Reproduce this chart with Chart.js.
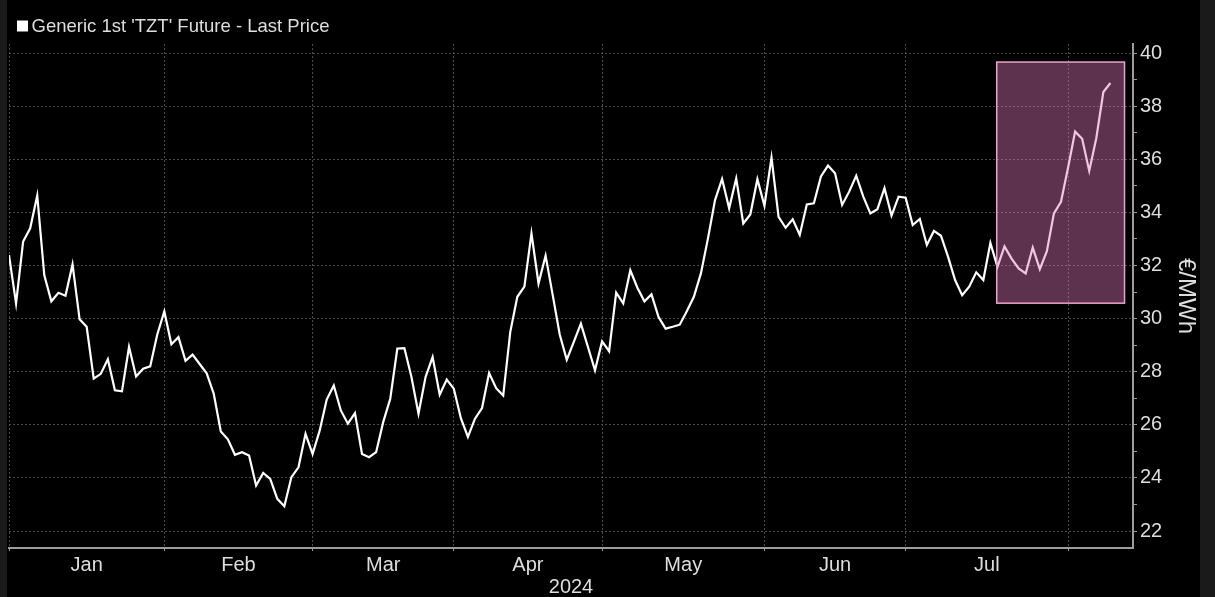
<!DOCTYPE html>
<html lang="en">
<head>
<meta charset="UTF-8">
<title>Generic 1st 'TZT' Future - Last Price</title>
<script src="https://cdn.jsdelivr.net/npm/chart.js"></script>
<style>
  html, body { margin: 0; padding: 0; background: #1a1a1a; overflow: hidden; }
  .wrap { position: absolute; left: 7px; top: 0; width: 1193px; height: 597px; background: #000; }
</style>
</head>
<body>
<div class="wrap"><canvas id="priceChart" width="1193" height="597"></canvas></div>
<script>
// one point per trading day, 2 Jan 2024 .. 9 Aug 2024
const months = ['Jan', 'Feb', 'Mar', 'Apr', 'May', 'Jun', 'Jul', 'Aug'];
const tradingDays = [22, 21, 20, 21, 23, 20, 23, 7];
const yearLabel = '2024';
const seriesName = "Generic 1st 'TZT' Future - Last Price";
const unitLabel = '€/MWh';
const yTicks = [22, 23, 24, 25, 26, 27, 28, 29, 30, 31, 32, 33, 34, 35, 36, 37, 38, 39, 40];

const prices = [
    // Jan
    32.39, 30.57, 32.90, 33.40, 34.63, 31.63, 30.65, 30.97, 30.86, 32.04, 29.97,
    29.69, 27.74, 27.92, 28.47, 27.30, 27.26, 28.93, 27.82, 28.11, 28.20, 29.40,
    // Feb
    30.27, 29.03, 29.30, 28.41, 28.64, 28.29, 27.94, 27.17, 25.75, 25.45, 24.87,
    24.97, 24.84, 23.71, 24.19, 23.96, 23.21, 22.93, 24.03, 24.40, 25.66,
    // Mar
    24.90, 25.78, 26.95, 27.48, 26.54, 26.04, 26.44, 24.90, 24.78, 24.97,
    26.10, 26.98, 28.87, 28.89, 27.80, 26.42, 27.80, 28.55, 27.13, 27.70,
    // Apr
    27.36, 26.25, 25.54, 26.23, 26.63, 27.95, 27.38, 27.10, 29.50, 30.82, 31.20,
    33.21, 31.32, 32.37, 30.90, 29.40, 28.45, 29.12, 29.81, 28.93, 28.05,
    // May
    29.14, 28.77, 30.98, 30.57, 31.82, 31.16, 30.65, 30.91, 30.06, 29.62, 29.69, 29.77,
    30.28, 30.82, 31.70, 33.02, 34.46, 35.26, 34.15, 35.28, 33.58, 33.92, 35.25,
    // Jun
    34.25, 36.06, 33.83, 33.42, 33.74, 33.15, 34.30, 34.34, 35.35, 35.76,
    35.47, 34.28, 34.78, 35.38, 34.59, 33.96, 34.12, 34.91, 33.88, 34.59,
    // Jul
    34.55, 33.52, 33.75, 32.77, 33.30, 33.12, 32.33, 31.45, 30.88, 31.20, 31.74, 31.45,
    32.85, 31.95, 32.72, 32.26, 31.89, 31.70, 32.67, 31.86, 32.54, 33.96, 34.40,
    // Aug
    35.68, 37.04, 36.77, 35.56, 36.79, 38.53, 38.87
];

// highlighted window, in day index / price units
const highlight = { from: 139.9, to: 158.0, low: 30.58, high: 39.66 };

// month boundaries (grid) and month centres (labels)
const monthStarts = [];
let acc = 0;
tradingDays.forEach(n => { monthStarts.push(acc); acc += n; });
const xMax = 159.2;
const labelAt = {};
for (let m = 0; m < months.length - 1; m++) {
    labelAt[(monthStarts[m] + monthStarts[m + 1]) / 2] = months[m];
}
const xTicks = monthStarts.concat(Object.keys(labelAt).map(Number)).sort((a, b) => a - b);
const isStart = v => monthStarts.includes(v);

const gridColor = '#4a4a4a';
const axisColor = '#9c9c9c';
const textColor = '#dedede';

Chart.defaults.font.family = "'Liberation Sans', Arial, sans-serif";

const legendPlugin = {
    id: 'topLegend',
    afterDraw(chart) {
        const ctx = chart.ctx;
        ctx.save();
        ctx.fillStyle = '#ffffff';
        ctx.fillRect(10, 20.5, 11, 11);
        ctx.font = "18.5px 'Liberation Sans', Arial, sans-serif";
        ctx.fillStyle = textColor;
        ctx.textBaseline = 'middle';
        ctx.fillText(chart.data.datasets[0].label, 24.5, 26.5);
        ctx.restore();
    }
};

const highlightPlugin = {
    id: 'highlightBox',
    afterDatasetsDraw(chart) {
        const { ctx, scales: { x, y } } = chart;
        const l = x.getPixelForValue(highlight.from);
        const r = x.getPixelForValue(highlight.to);
        const t = y.getPixelForValue(highlight.high);
        const b = y.getPixelForValue(highlight.low);
        ctx.save();
        ctx.fillStyle = 'rgba(222, 120, 185, 0.42)';
        ctx.fillRect(l, t, r - l, b - t);
        ctx.strokeStyle = '#e9a3c9';
        ctx.lineWidth = 1.5;
        ctx.strokeRect(l, t, r - l, b - t);
        ctx.restore();
    }
};

const ctx = document.getElementById('priceChart').getContext('2d');
new Chart(ctx, {
    type: 'line',
    data: {
        datasets: [{
            label: seriesName,
            data: prices.map((p, i) => ({ x: i, y: p })),
            borderColor: '#ffffff',
            borderWidth: 2.2,
            pointRadius: 0,
            tension: 0,
            fill: false
        }]
    },
    options: {
        responsive: false,
        animation: false,
        devicePixelRatio: 1,
        layout: { padding: { left: 1, top: 44, right: 0, bottom: 0 } },
        plugins: {
            legend: { display: false },
            tooltip: { enabled: false }
        },
        scales: {
            x: {
                type: 'linear',
                position: 'bottom',
                min: 0,
                max: xMax,
                afterBuildTicks: s => { s.ticks = xTicks.map(v => ({ value: v })); },
                afterFit: s => { s.height = 49; },
                ticks: {
                    autoSkip: false,
                    maxRotation: 0,
                    color: textColor,
                    font: { size: 20, lineHeight: 1 },
                    padding: 2,
                    callback: v => labelAt[v] || ''
                },
                grid: {
                    color: c => (c.tick && isStart(c.tick.value)) ? gridColor : 'transparent',
                    tickColor: c => (c.tick && isStart(c.tick.value)) ? axisColor : 'transparent',
                    tickLength: 5,
                    lineWidth: 1,
                    tickBorderDash: [2, 2]
                },
                border: { color: axisColor, width: 2, dash: [2, 2] },
                title: {
                    display: true,
                    text: yearLabel,
                    color: textColor,
                    font: { size: 20, lineHeight: 1 },
                    padding: { top: 0, bottom: 0 }
                }
            },
            y: {
                position: 'right',
                min: 21.36,
                max: 40.34,
                afterBuildTicks: s => { s.ticks = yTicks.map(v => ({ value: v })); },
                afterFit: s => { s.width = 67; },
                ticks: {
                    color: textColor,
                    font: { size: 20, lineHeight: 1 },
                    padding: 3,
                    callback: v => (v % 2 === 0 ? String(v) : '')
                },
                grid: {
                    color: c => (c.tick && c.tick.value % 2 === 0) ? gridColor : 'transparent',
                    tickColor: axisColor,
                    tickLength: 4,
                    lineWidth: 1
                },
                border: { color: axisColor, width: 2, dash: [2, 2] },
                title: {
                    display: true,
                    text: unitLabel,
                    color: textColor,
                    font: { size: 24, lineHeight: 1 },
                    padding: { top: 2.5, bottom: 0 }
                }
            }
        }
    },
    plugins: [legendPlugin, highlightPlugin]
});
</script>
</body>
</html>
